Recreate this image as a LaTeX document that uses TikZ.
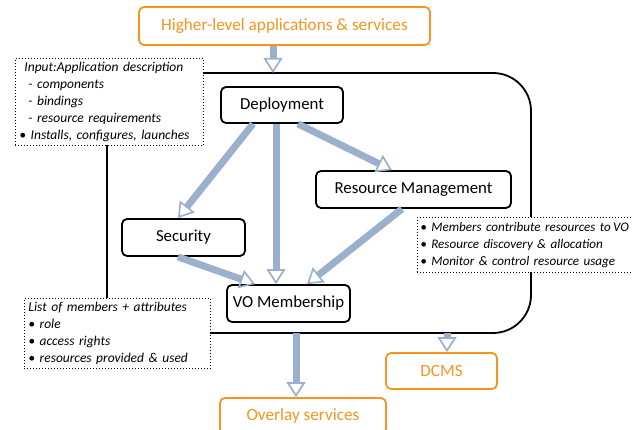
\documentclass[tikz,border=0pt]{standalone}
\usepackage{fontspec}
\setmainfont{Carlito}
\usetikzlibrary{arrows.meta}
\definecolor{arrc}{RGB}{155,176,205}
\definecolor{orgc}{RGB}{247,148,30}
\begin{document}
\begin{tikzpicture}[x=1pt,y=-1pt,
  box/.style={draw=black, line width=1.8pt, rounded corners=5pt, fill=white,
    font=\fontsize{16.8}{19}\selectfont, inner sep=0pt, minimum height=37pt},
  obox/.style={draw=orgc, line width=1.8pt, rounded corners=5pt, fill=white, text=orgc,
    font=\fontsize{17.2}{20}\selectfont, inner sep=0pt, minimum height=37pt},
  note/.style={draw=black, line width=0.9pt, dash pattern=on 0.9pt off 2.1pt, fill=white,
    font=\itshape\fontsize{13.5}{16.9}\selectfont, align=left, anchor=north west,
    inner xsep=4pt, inner ysep=0pt},
  flow/.style={draw=arrc, line width=7pt,
    -{Triangle[open, length=15pt, width=19pt, line width=1.7pt]}},
  bigbox/.style={draw=black, line width=1.8pt, rounded corners=38pt}
]
\useasboundingbox (0,0) rectangle (633,430);

% big enclosing box
\draw[bigbox] (107,73) rectangle (531,333);

% notes
\node[note, minimum width=188pt, minimum height=87pt, text width=180pt] (input) at (15,58)
  {\hspace*{5pt}Input:Application description\\
   \hspace*{9pt}- components\\
   \hspace*{9pt}- bindings\\
   \hspace*{9pt}- resource requirements\\
   • Installs, configures, launches};
\node[note, minimum width=250pt, minimum height=55pt, text width=244pt, inner xsep=3pt,
      font=\itshape\fontsize{13.1}{16.9}\selectfont] (members) at (417,217)
  {• Members contribute resources to\,VO\\
   • Resource discovery \& allocation\\
   • Monitor \& control resource usage};
\node[note, minimum width=186pt, minimum height=70pt, text width=178pt] (list) at (24,298)
  {List of members + attributes\\
   • role\\
   • access rights\\
   • resources provided \& used};

% main nodes
\node[obox, minimum width=291pt, minimum height=38pt] (high) at (284.5,26) {Higher-level applications \& services};
\node[box, minimum width=122pt, minimum height=36pt] (dep) at (282,105) {Deployment};
\node[box, minimum width=195pt] (res) at (413.5,189.5) {Resource Management};
\node[box, minimum width=123pt] (sec) at (183.5,237.5) {Security};
\node[box, minimum width=123pt] (vo) at (288.5,303.5) {VO Membership};
\node[obox, minimum width=111pt, minimum height=36pt] (dcms) at (441.5,371) {DCMS};
\node[obox, minimum width=166pt, minimum height=36pt] (ovl) at (303,416) {Overlay services};

% connector coordinates on the big box
\coordinate (bbtop) at (273,73);
\coordinate (bbovl) at (296,333);
\coordinate (bbdcms) at (447,333);

% connectors
\draw[flow] (high.south -| bbtop) -- (bbtop);
\draw[flow] ([xshift=-29pt]dep.south) -- ([xshift=-5.5pt]sec.north);
\draw[flow] ([xshift=-6pt]dep.south) -- ([xshift=-12.5pt]vo.north);
\draw[flow] ([xshift=16pt]dep.south) -- ([xshift=-21.5pt]res.north);
\draw[flow] ([xshift=-5.5pt]sec.south) -- ([xshift=-33.5pt]vo.north);
\draw[flow] ([xshift=-11.5pt]res.south) -- ([xshift=18.5pt]vo.north);
\draw[flow] (bbovl) -- (ovl.north -| bbovl);
\draw[flow] (bbdcms) -- (dcms.north -| bbdcms);
\end{tikzpicture}
\end{document}
